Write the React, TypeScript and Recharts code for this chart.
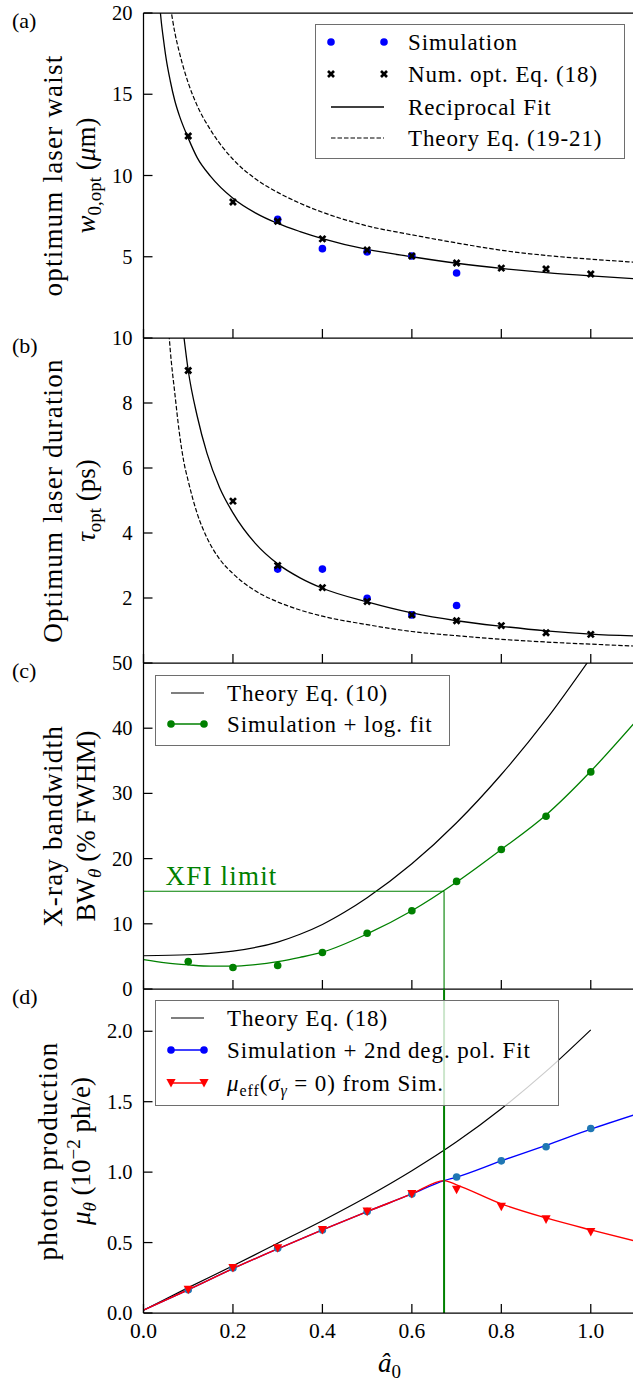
import React from 'react';
import { ComposedChart, Line, Scatter, XAxis, YAxis, ReferenceLine, Legend } from 'recharts';

// ---------- shared x axis ----------
const X_DOMAIN: [number, number] = [0, 1.1];
const X_TICKS = [0, 0.2, 0.4, 0.6, 0.8, 1.0];
const X_TICK_LABELS = ['0.0', '0.2', '0.4', '0.6', '0.8', '1.0'];
const A0 = [0.1, 0.2, 0.3, 0.4, 0.5, 0.6, 0.7, 0.8, 0.9, 1.0];

// ---------- (a) optimum laser waist ----------
const A_Y_TICKS = [5, 10, 15, 20];
const A_Y_LABELS = ['5', '10', '15', '20'];
const simA_x = [0.3, 0.4, 0.5, 0.6, 0.7];
const simA_y = [7.3, 5.5, 5.3, 5.05, 4.0];
const numOptA = [12.43, 8.37, 7.18, 6.1, 5.42, 5.05, 4.62, 4.3, 4.25, 3.94];
const fitA_x = [0.036, 0.04, 0.045, 0.05, 0.06, 0.07, 0.08, 0.1, 0.12, 0.15, 0.2, 0.25, 0.3, 0.35, 0.4, 0.5, 0.6, 0.7, 0.8, 0.9, 1.0, 1.1];
const fitA_y = [20.5, 19.4, 18.3, 17.3, 15.8, 14.6, 13.7, 12.3, 11.1, 9.95, 8.6, 7.7, 7.05, 6.55, 6.12, 5.45, 5.0, 4.6, 4.28, 4.02, 3.82, 3.65];
const thA_x = [0.058, 0.06, 0.07, 0.08, 0.1, 0.12, 0.15, 0.2, 0.25, 0.3, 0.35, 0.4, 0.5, 0.6, 0.7, 0.8, 0.9, 1.0, 1.1];
const thA_y = [20.7, 20.4, 18.8, 17.6, 15.7, 14.3, 12.8, 11.0, 9.8, 8.96, 8.29, 7.74, 6.9, 6.35, 5.85, 5.4, 5.08, 4.85, 4.66];

// ---------- (b) optimum laser duration ----------
const B_Y_TICKS = [2, 4, 6, 8, 10];
const B_Y_LABELS = ['2', '4', '6', '8', '10'];
const simB_x = [0.3, 0.4, 0.5, 0.6, 0.7];
const simB_y = [2.89, 2.89, 1.99, 1.48, 1.77];
const numOptB = [9.0, 4.98, 3.0, 2.32, 1.89, 1.48, 1.3, 1.15, 0.93, 0.88];
const fitB_x = [0.088, 0.1, 0.12, 0.142, 0.17, 0.2, 0.25, 0.3, 0.35, 0.4, 0.5, 0.6, 0.7, 0.8, 0.9, 1.0, 1.1];
const fitB_y = [10.3, 9.0, 7.6, 6.45, 5.4, 4.62, 3.68, 3.05, 2.62, 2.3, 1.88, 1.54, 1.3, 1.13, 0.99, 0.89, 0.83];
const thB_x = [0.056, 0.06, 0.07, 0.08, 0.09, 0.1, 0.12, 0.142, 0.17, 0.2, 0.25, 0.3, 0.35, 0.4, 0.5, 0.6, 0.7, 0.8, 0.9, 1.0, 1.1];
const thB_y = [10.3, 9.6, 8.3, 7.1, 6.2, 5.6, 4.6, 3.85, 3.2, 2.75, 2.22, 1.88, 1.63, 1.44, 1.18, 0.97, 0.84, 0.73, 0.645, 0.58, 0.52];

// ---------- (c) X-ray bandwidth ----------
const C_Y_TICKS = [0, 10, 20, 30, 40, 50];
const C_Y_LABELS = ['0', '10', '20', '30', '40', '50'];
const simC = [4.2, 3.3, 3.6, 5.6, 8.56, 12.0, 16.5, 21.4, 26.5, 33.3];
const fitC_x = [0, 0.05, 0.1, 0.15, 0.2, 0.25, 0.3, 0.35, 0.4, 0.5, 0.6, 0.7, 0.8, 0.9, 1.0, 1.1];
const fitC_y = [4.5, 4.0, 3.7, 3.5, 3.5, 3.75, 4.2, 4.85, 5.65, 8.45, 12.0, 16.4, 21.4, 26.7, 33.4, 41.0];
const thC_x = [0, 0.1, 0.2, 0.3, 0.35, 0.4, 0.45, 0.5, 0.6, 0.7, 0.8, 0.9, 1.0];
const thC_y = [5.1, 5.25, 5.8, 7.2, 8.4, 9.9, 11.8, 14.0, 19.2, 25.5, 32.9, 41.3, 50.8];
const XFI_A0 = 0.672;
const XFI_BW = 15;

// ---------- (d) photon production ----------
const D_Y_TICKS = [0, 0.5, 1.0, 1.5, 2.0];
const D_Y_LABELS = ['0.0', '0.5', '1.0', '1.5', '2.0'];
const thD_x = [0, 0.1, 0.2, 0.3, 0.4, 0.5, 0.6, 0.7, 0.8, 0.9, 1.0];
const thD_y = [0.02, 0.18, 0.335, 0.495, 0.655, 0.825, 1.01, 1.215, 1.45, 1.715, 2.01];
const simD = [0.165, 0.32, 0.46, 0.59, 0.72, 0.845, 0.965, 1.08, 1.18, 1.31];
const fitD_x = [0, 0.1, 0.2, 0.3, 0.4, 0.5, 0.6, 0.672, 0.7, 0.8, 0.9, 1.0, 1.1];
const fitD_y = [0.02, 0.165, 0.315, 0.455, 0.59, 0.72, 0.845, 0.94, 0.965, 1.08, 1.19, 1.305, 1.41];
const effD = [0.165, 0.32, 0.46, 0.59, 0.72, 0.845, 0.875, 0.755, 0.665, 0.575];
const effLine_x = [0, 0.1, 0.2, 0.3, 0.4, 0.5, 0.6, 0.672, 0.7, 0.8, 0.9, 1.0, 1.1];
const effLine_y = [0.02, 0.165, 0.315, 0.455, 0.59, 0.72, 0.845, 0.94, 0.91, 0.775, 0.675, 0.59, 0.51];

// ---------- style ----------
const FONT = 'Liberation Serif, DejaVu Serif, Times New Roman, serif';
const AXIS = '#000';
const GREEN = '#008000';
const BLUE = '#0000ff';
const TAB_BLUE = '#1f77b4';
const RED = '#ff0000';
const CHART_W = 636;
const PLOT_LEFT = 143.5;
const MARGIN = { left: 0, right: 0.5 };

const zip = (xs: number[], ys: number[]) => xs.map((x, i) => ({ x, y: ys[i] }));
const fontStyle = (size: number, extra: React.CSSProperties = {}): React.CSSProperties => ({
  fontFamily: FONT,
  fontSize: size,
  ...extra,
});

// ---------- ticks ----------
const makeBottomTick = (showLabel: boolean) => (p: any) => {
  const i = X_TICKS.findIndex((t) => Math.abs(t - p.payload.value) < 1e-9);
  return (
    <g>
      <line x1={p.x} y1={p.y} x2={p.x} y2={p.y - 9} stroke={AXIS} strokeWidth={1.25} />
      {showLabel && (
        <text x={p.x} y={p.y + 25} textAnchor="middle" style={fontStyle(21.5)} fill="#000">
          {X_TICK_LABELS[i]}
        </text>
      )}
    </g>
  );
};
const makeLeftTick = (ticks: number[], labels: string[]) => (p: any) => {
  const i = ticks.findIndex((t) => Math.abs(t - p.payload.value) < 1e-9);
  return (
    <g>
      <line x1={p.x} y1={p.y} x2={p.x + 9} y2={p.y} stroke={AXIS} strokeWidth={1.25} />
      <text x={p.x - 11} y={p.y + 7} textAnchor="end" style={fontStyle(20.5)} fill="#000">
        {labels[i]}
      </text>
    </g>
  );
};

// ---------- markers ----------
const dotShape = (color: string, r: number) => (p: any) => <circle cx={p.cx} cy={p.cy} r={r} fill={color} />;
const xShape = (p: any) => {
  const s = 3;
  return (
    <g stroke="#000" strokeWidth={2.7}>
      <line x1={p.cx - s} y1={p.cy - s} x2={p.cx + s} y2={p.cy + s} />
      <line x1={p.cx - s} y1={p.cy + s} x2={p.cx + s} y2={p.cy - s} />
    </g>
  );
};
const triShape = (p: any) => (
  <path d={`M${p.cx - 4.6},${p.cy - 4} L${p.cx + 4.6},${p.cy - 4} L${p.cx},${p.cy + 4.6} Z`} fill={RED} />
);

// ---------- axis labels ----------
const yLabel = (tag: string, line1: React.ReactNode, line2: React.ReactNode, x1: number, x2: number) => (props: any) => {
  const vb = props.viewBox || { x: 0, y: 0, width: 0, height: 0 };
  const cy = vb.y + vb.height / 2;
  return (
    <g fill="#000">
      <text x={12} y={vb.y + 15} style={fontStyle(22)}>{tag}</text>
      <text transform={`rotate(-90 ${x1} ${cy})`} x={x1} y={cy} textAnchor="middle" style={fontStyle(27, { letterSpacing: 1.2 })}>
        {line1}
      </text>
      <text transform={`rotate(-90 ${x2} ${cy})`} x={x2} y={cy} textAnchor="middle" style={fontStyle(27)}>
        {line2}
      </text>
    </g>
  );
};

const labelA = yLabel(
  '(a)',
  'optimum laser waist',
  <>
    <tspan fontStyle="italic">w</tspan>
    <tspan dy={6} fontSize={19}>0,opt</tspan>
    <tspan dy={-6}> (</tspan>
    <tspan fontStyle="italic">μ</tspan>
    <tspan>m)</tspan>
  </>,
  62,
  95
);
const labelB = yLabel(
  '(b)',
  'Optimum laser duration',
  <>
    <tspan fontStyle="italic">τ</tspan>
    <tspan dy={6} fontSize={19}>opt</tspan>
    <tspan dy={-6}> (ps)</tspan>
  </>,
  62,
  95
);
const labelC = yLabel(
  '(c)',
  'X-ray bandwidth',
  <>
    <tspan>BW</tspan>
    <tspan dy={6} fontSize={19} fontStyle="italic">θ</tspan>
    <tspan dy={-6}> (% FWHM)</tspan>
  </>,
  62,
  95
);
const labelD = yLabel(
  '(d)',
  'photon production',
  <>
    <tspan fontStyle="italic">μ</tspan>
    <tspan dy={6} fontSize={19} fontStyle="italic">θ</tspan>
    <tspan dy={-6}> (10</tspan>
    <tspan dy={-10} fontSize={19}>−2</tspan>
    <tspan dy={10}> ph/e)</tspan>
  </>,
  57,
  90
);

const xLabel = (props: any) => {
  const vb = props.viewBox || { x: 0, y: 0, width: 0, height: 0 };
  return (
    <text x={vb.x + vb.width / 2} y={vb.y + 59} textAnchor="middle" style={fontStyle(27)} fill="#000">
      <tspan fontStyle="italic">â</tspan>
      <tspan dy={6} fontSize={19}>0</tspan>
    </text>
  );
};

const xfiLabel = (props: any) => {
  const vb = props.viewBox || { x: 0, y: 0 };
  return (
    <text x={vb.x + 22} y={vb.y - 6} style={fontStyle(27, { letterSpacing: 1.2 })} fill={GREEN}>
      XFI limit
    </text>
  );
};

// ---------- legends ----------
const LTXT: React.CSSProperties = { fontFamily: FONT, fontSize: 23, letterSpacing: 0.9 };
const boxStyle = (w: number, h: number): React.CSSProperties => ({
  width: w,
  height: h,
  boxSizing: 'border-box',
  border: '1px solid #6e6e6e',
  background: 'rgba(255,255,255,0.8)',
});

const LegendA = () => (
  <div style={boxStyle(310, 135)}>
    <svg width={308} height={133} style={{ display: 'block' }}>
      <circle cx={15} cy={17} r={3.8} fill={BLUE} />
      <circle cx={68} cy={17} r={3.8} fill={BLUE} />
      <text x={92} y={25} style={LTXT} fill="#000">Simulation</text>
      {xShape({ cx: 15, cy: 49 })}
      {xShape({ cx: 68, cy: 49 })}
      <text x={92} y={57} style={LTXT} fill="#000">Num. opt. Eq. (18)</text>
      <line x1={15} y1={82} x2={68} y2={82} stroke="#000" strokeWidth={1.3} />
      <text x={92} y={90} style={LTXT} fill="#000">Reciprocal Fit</text>
      <line x1={15} y1={113} x2={68} y2={113} stroke="#000" strokeWidth={1.2} strokeDasharray="4.5 2" />
      <text x={92} y={121} style={LTXT} fill="#000">Theory Eq. (19-21)</text>
    </svg>
  </div>
);

const LegendC = () => (
  <div style={boxStyle(295, 71)}>
    <svg width={293} height={69} style={{ display: 'block' }}>
      <line x1={15} y1={17} x2={48} y2={17} stroke="#000" strokeWidth={1.2} />
      <text x={71} y={25} style={LTXT} fill="#000">Theory Eq. (10)</text>
      <line x1={15} y1={48} x2={48} y2={48} stroke={GREEN} strokeWidth={1.3} />
      <circle cx={15} cy={48} r={3.8} fill={GREEN} />
      <circle cx={48} cy={48} r={3.8} fill={GREEN} />
      <text x={71} y={56} style={LTXT} fill="#000">Simulation + log. fit</text>
    </svg>
  </div>
);

const LegendD = () => (
  <div style={boxStyle(404, 106)}>
    <svg width={402} height={104} style={{ display: 'block' }}>
      <line x1={15} y1={17} x2={48} y2={17} stroke="#000" strokeWidth={1.2} />
      <text x={71} y={25} style={LTXT} fill="#000">Theory Eq. (18)</text>
      <line x1={15} y1={49} x2={48} y2={49} stroke={BLUE} strokeWidth={1.4} />
      <circle cx={15} cy={49} r={3.8} fill={BLUE} />
      <circle cx={48} cy={49} r={3.8} fill={BLUE} />
      <text x={71} y={57} style={LTXT} fill="#000">Simulation + 2nd deg. pol. Fit</text>
      <line x1={15} y1={82} x2={48} y2={82} stroke={RED} strokeWidth={1.4} />
      {triShape({ cx: 15, cy: 82 })}
      {triShape({ cx: 48, cy: 82 })}
      <text x={71} y={90} style={LTXT} fill="#000">
        <tspan fontStyle="italic">μ</tspan>
        <tspan dy={5} fontSize={16}>eff</tspan>
        <tspan dy={-5}>(</tspan>
        <tspan fontStyle="italic">σ</tspan>
        <tspan dy={5} fontSize={16} fontStyle="italic">γ</tspan>
        <tspan dy={-5}> = 0) from Sim.</tspan>
      </text>
    </svg>
  </div>
);

// ---------- common axes ----------
const bottomAxis = (showLabels: boolean, height: number, label?: any) => (
  <XAxis
    type="number"
    dataKey="x"
    domain={X_DOMAIN}
    ticks={X_TICKS}
    interval={0}
    allowDataOverflow
    height={height}
    tickSize={0}
    tickMargin={0}
    tickLine={false}
    axisLine={{ stroke: AXIS, strokeWidth: 1.25 }}
    tick={makeBottomTick(showLabels)}
    label={label}
  />
);
const leftAxis = (domain: [number, number], ticks: number[], labels: string[], label: any) => (
  <YAxis
    type="number"
    dataKey="y"
    domain={domain}
    ticks={ticks}
    interval={0}
    allowDataOverflow
    width={PLOT_LEFT}
    tickSize={0}
    tickMargin={0}
    tickLine={false}
    axisLine={{ stroke: AXIS, strokeWidth: 1.25 }}
    tick={makeLeftTick(ticks, labels)}
    label={label}
  />
);

const legendProps = { layout: 'horizontal' as const, verticalAlign: 'middle' as const, align: 'center' as const };

export default function App() {
  return (
    <div style={{ position: 'absolute', left: 0, top: 0, width: 633, height: 1381, overflow: 'hidden', background: '#fff' }}>
      {/* (a) */}
      <div style={{ position: 'absolute', left: 0, top: 0 }}>
        <ComposedChart width={CHART_W} height={360} margin={{ ...MARGIN, top: 12, bottom: 21 }}>
          {bottomAxis(false, 1)}
          <XAxis
            xAxisId="top"
            orientation="top"
            type="number"
            dataKey="x"
            domain={X_DOMAIN}
            height={1}
            tick={false}
            tickLine={false}
            axisLine={{ stroke: AXIS, strokeWidth: 1.25 }}
          />
          {leftAxis([0, 20], A_Y_TICKS, A_Y_LABELS, labelA)}
          <Line data={zip(thA_x, thA_y)} dataKey="y" type="monotone" stroke="#000" strokeWidth={1.2} strokeDasharray="4.5 2" dot={false} activeDot={false} isAnimationActive={false} />
          <Line data={zip(fitA_x, fitA_y)} dataKey="y" type="monotone" stroke="#000" strokeWidth={1.3} dot={false} activeDot={false} isAnimationActive={false} />
          <Scatter data={zip(simA_x, simA_y)} dataKey="y" shape={dotShape(BLUE, 3.8)} isAnimationActive={false} />
          <Scatter data={zip(A0, numOptA)} dataKey="y" shape={xShape} isAnimationActive={false} />
          <Legend {...legendProps} content={() => <LegendA />} wrapperStyle={{ left: 314.7, top: 24, width: 310, height: 135 }} />
        </ComposedChart>
      </div>

      {/* (b) */}
      <div style={{ position: 'absolute', left: 0, top: 325 }}>
        <ComposedChart width={CHART_W} height={360} margin={{ ...MARGIN, top: 13, bottom: 21 }}>
          {bottomAxis(false, 1)}
          {leftAxis([0, 10], B_Y_TICKS, B_Y_LABELS, labelB)}
          <Line data={zip(thB_x, thB_y)} dataKey="y" type="monotone" stroke="#000" strokeWidth={1.2} strokeDasharray="4.5 2" dot={false} activeDot={false} isAnimationActive={false} />
          <Line data={zip(fitB_x, fitB_y)} dataKey="y" type="monotone" stroke="#000" strokeWidth={1.3} dot={false} activeDot={false} isAnimationActive={false} />
          <Scatter data={zip(simB_x, simB_y)} dataKey="y" shape={dotShape(BLUE, 3.8)} isAnimationActive={false} />
          <Scatter data={zip(A0, numOptB)} dataKey="y" shape={xShape} isAnimationActive={false} />
        </ComposedChart>
      </div>

      {/* (c) */}
      <div style={{ position: 'absolute', left: 0, top: 650 }}>
        <ComposedChart width={CHART_W} height={360} margin={{ ...MARGIN, top: 13, bottom: 20 }}>
          {bottomAxis(false, 1)}
          {leftAxis([0, 50], C_Y_TICKS, C_Y_LABELS, labelC)}
          <Line data={zip(thC_x, thC_y)} dataKey="y" type="monotone" stroke="#000" strokeWidth={1.2} dot={false} activeDot={false} isAnimationActive={false} />
          <Line data={zip(fitC_x, fitC_y)} dataKey="y" type="monotone" stroke={GREEN} strokeWidth={1.3} dot={false} activeDot={false} isAnimationActive={false} />
          <Scatter data={zip(A0, simC)} dataKey="y" shape={dotShape(GREEN, 3.8)} isAnimationActive={false} />
          <ReferenceLine
            segment={[{ x: 0, y: XFI_BW }, { x: XFI_A0, y: XFI_BW }]}
            stroke={GREEN}
            strokeWidth={1.1}
            label={xfiLabel}
          />
          <ReferenceLine segment={[{ x: XFI_A0, y: XFI_BW }, { x: XFI_A0, y: 0 }]} stroke={GREEN} strokeWidth={1.1} />
          <Legend {...legendProps} content={() => <LegendC />} wrapperStyle={{ left: 155, top: 25, width: 295, height: 71 }} />
        </ComposedChart>
      </div>

      {/* (d) */}
      <div style={{ position: 'absolute', left: 0, top: 976 }}>
        <ComposedChart width={CHART_W} height={405} margin={{ ...MARGIN, top: 13, bottom: 0 }}>
          {bottomAxis(true, 68, xLabel)}
          {leftAxis([0, 2.3], D_Y_TICKS, D_Y_LABELS, labelD)}
          <Line data={zip(thD_x, thD_y)} dataKey="y" type="monotone" stroke="#000" strokeWidth={1.2} dot={false} activeDot={false} isAnimationActive={false} />
          <Line data={zip(fitD_x, fitD_y)} dataKey="y" type="monotone" stroke={BLUE} strokeWidth={1.4} dot={false} activeDot={false} isAnimationActive={false} />
          <Scatter data={zip(A0, simD)} dataKey="y" shape={dotShape(TAB_BLUE, 3.8)} isAnimationActive={false} />
          <Line data={zip(effLine_x, effLine_y)} dataKey="y" type="monotone" stroke={RED} strokeWidth={1.4} dot={false} activeDot={false} isAnimationActive={false} />
          <Scatter data={zip(A0, effD)} dataKey="y" shape={triShape} isAnimationActive={false} />
          <ReferenceLine x={XFI_A0} stroke={GREEN} strokeWidth={2} />
          <Legend {...legendProps} content={() => <LegendD />} wrapperStyle={{ left: 155, top: 24, width: 404, height: 106 }} />
        </ComposedChart>
      </div>
    </div>
  );
}
